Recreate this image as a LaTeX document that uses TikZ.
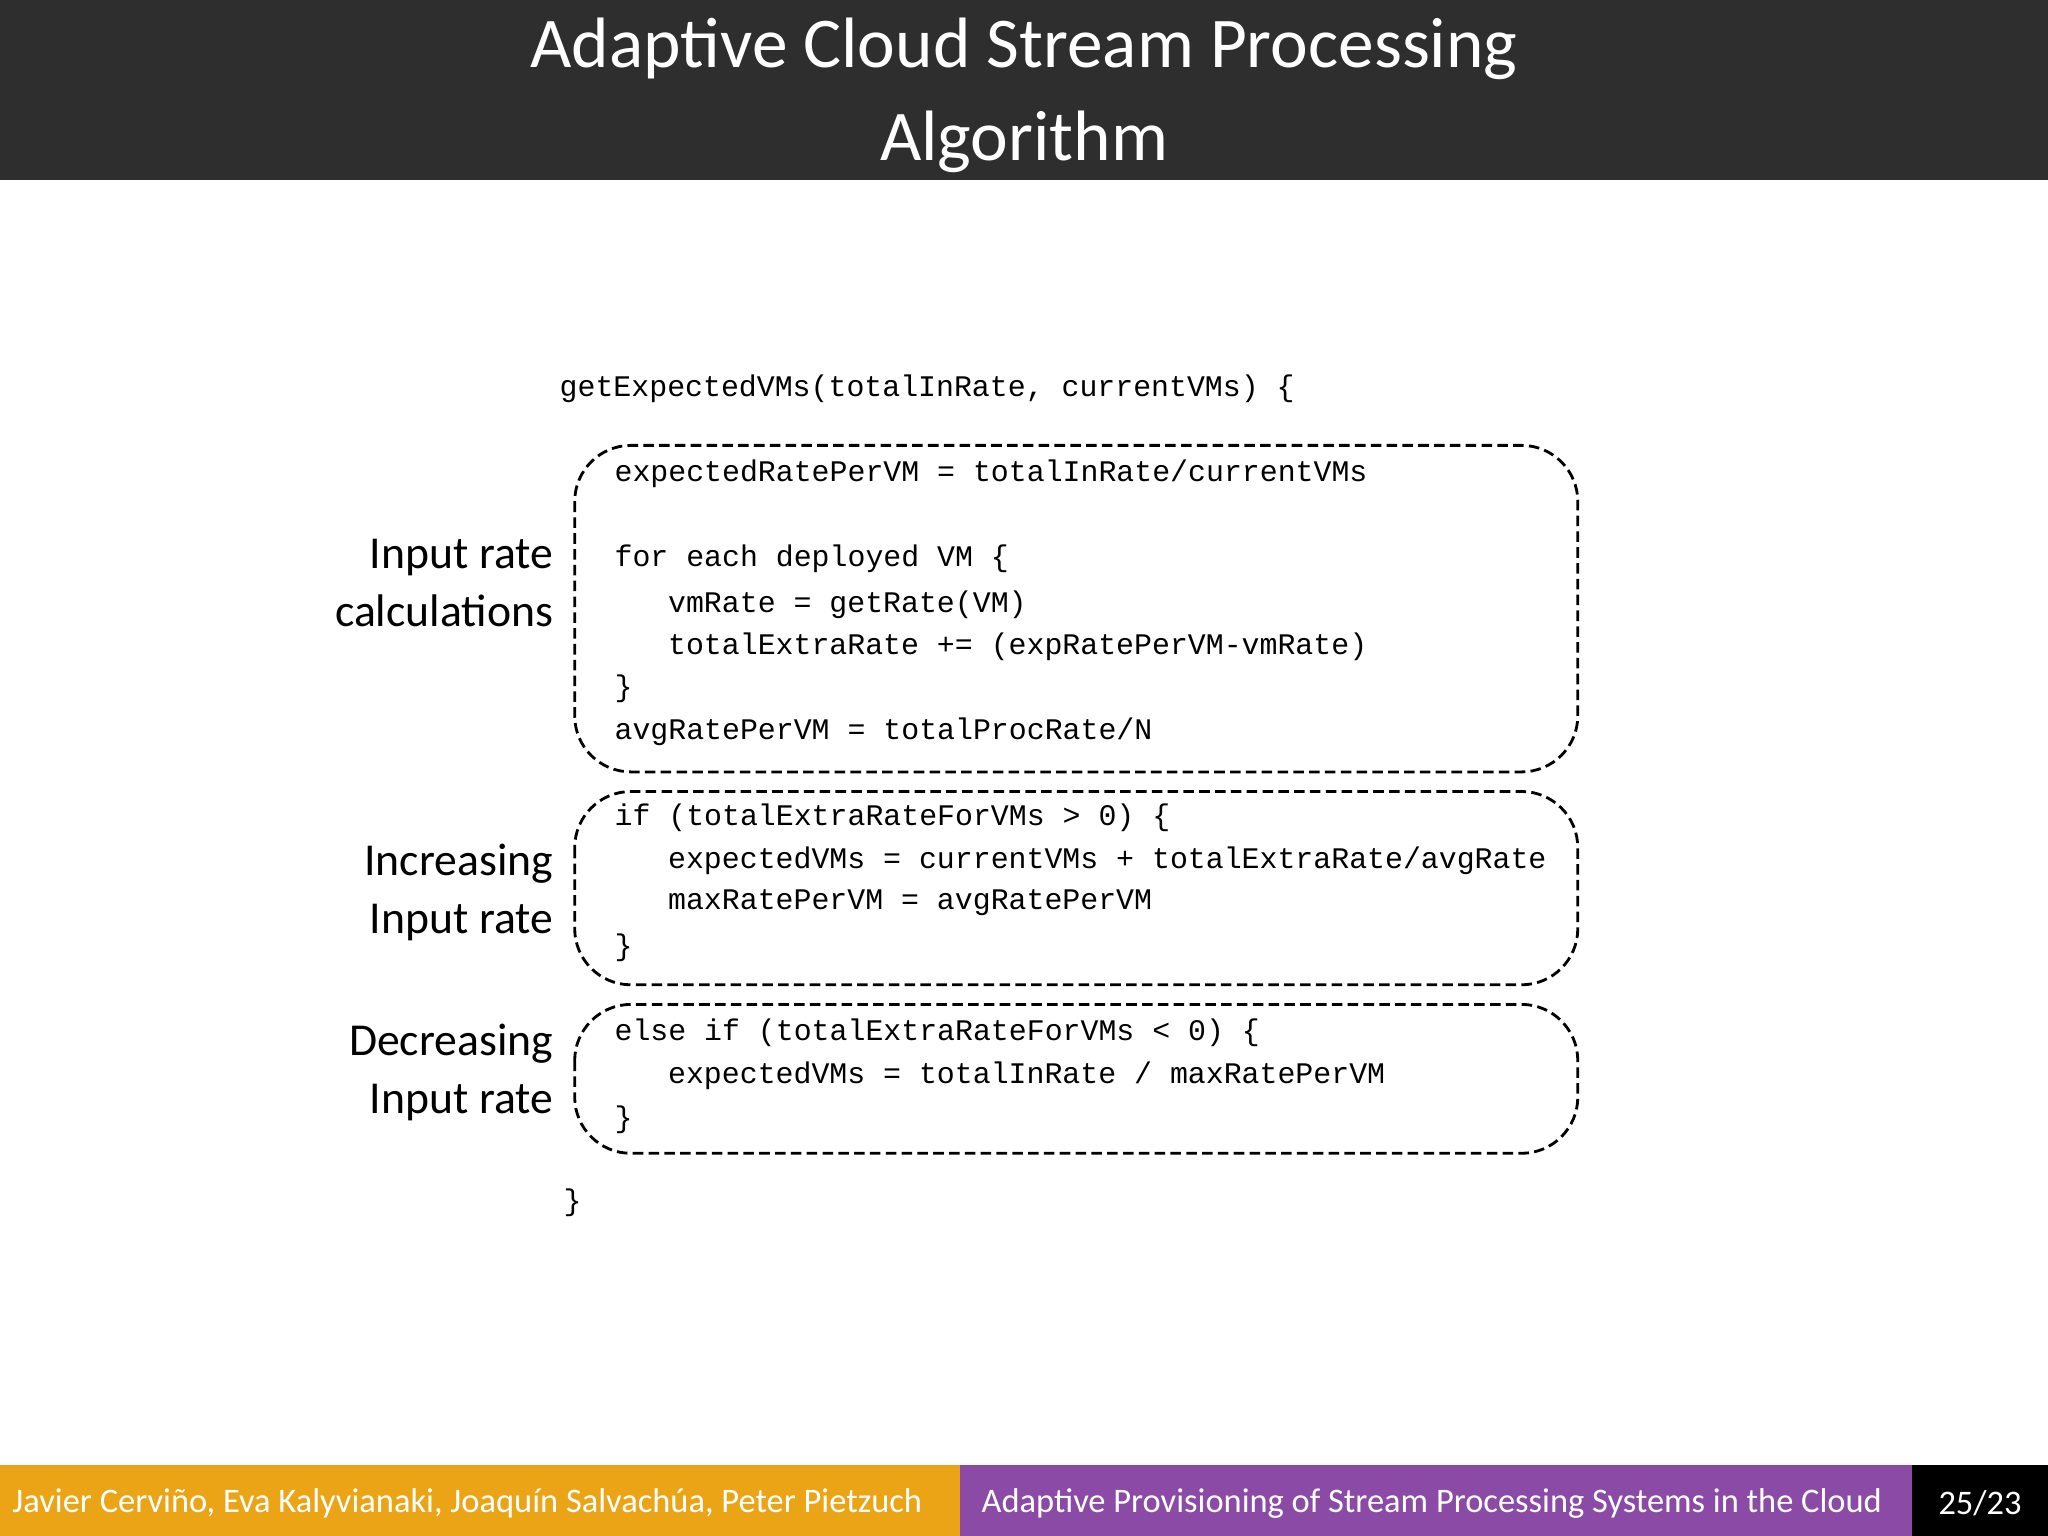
\documentclass[tikz,border=0pt]{standalone}
\usepackage{fontspec}
\setmainfont{Carlito}
\newfontfamily\codefont{Liberation Mono}
\definecolor{footorange}{HTML}{EBA416}
\definecolor{footpurple}{HTML}{8B4AA6}
\begin{document}
\begin{tikzpicture}[x=0.01306cm,y=-0.01306cm,
  code/.style={anchor=west,inner sep=0pt,font=\codefont\fontsize{8.5}{10}\selectfont},
  lab/.style={anchor=east,inner sep=0pt,align=right,font=\fontsize{13}{16.5}\selectfont},
  box/.style={draw,thick,dash pattern=on 3pt off 1.5pt,rounded corners=16pt},
  foot/.style={font=\fontsize{9.8}{12}\selectfont,text=white,inner sep=0pt}]
\useasboundingbox (0,0) rectangle (1568,1176);
\fill[white] (0,0) rectangle (1568,1176);
\fill[black!82] (0,0) rectangle (1568,138);
\node[text=white,align=center,font=\fontsize{20.3}{26.5}\selectfont] (title) at (784,73) {Adaptive Cloud Stream Processing\\Algorithm};
% footer
\fill[footorange] (0,1122) rectangle (735,1176);
\fill[footpurple] (735,1122) rectangle (1464,1176);
\fill[black] (1464,1122) rectangle (1568,1176);
\node[foot,anchor=west] (f1) at (9,1151) {Javier Cerviño, Eva Kalyvianaki, Joaquín Salvachúa, Peter Pietzuch};
\node[foot,anchor=west] (f2) at (751,1151) {Adaptive Provisioning of Stream Processing Systems in the Cloud};
\node[foot] (f3) at (1516,1151) {25/23};
% boxes
\draw[box] (440,341) rectangle (1208,591);
\draw[box] (440,606) rectangle (1208,754);
\draw[box] (440,769) rectangle (1208,883);
% code
\node[code] (c0) at (428,298) {getExpectedVMs(totalInRate, currentVMs) \{};
\node[code] (c1) at (470,363) {expectedRatePerVM =  totalInRate/currentVMs};
\node[code] (c2) at (470,428) {for each deployed VM \{};
\node[code] (c3) at (511,463) {vmRate = getRate(VM)};
\node[code] (c4) at (511,495) {totalExtraRate += (expRatePerVM-vmRate)};
\node[code] (c5) at (470,527) {\}};
\node[code] (c6) at (470,560) {avgRatePerVM = totalProcRate/N};
\node[code] (c7) at (470,626) {if (totalExtraRateForVMs > 0) \{};
\node[code] (c8) at (511,659) {expectedVMs = currentVMs + totalExtraRate/avgRate};
\node[code] (c9) at (511,691) {maxRatePerVM = avgRatePerVM};
\node[code] (c10) at (470,726) {\}};
\node[code] (c11) at (470,791) {else if (totalExtraRateForVMs < 0) \{};
\node[code] (c12) at (511,824) {expectedVMs = totalInRate / maxRatePerVM};
\node[code] (c13) at (470,857) {\}};
\node[code] (c14) at (431,921) {\}};
% labels
\node[lab] (l1) at (424,446) {Input rate\\calculations};
\node[lab] (l2) at (424,683) {Increasing\\Input rate};
\node[lab] (l3) at (424,821) {Decreasing\\Input rate};
\end{tikzpicture}
\end{document}
